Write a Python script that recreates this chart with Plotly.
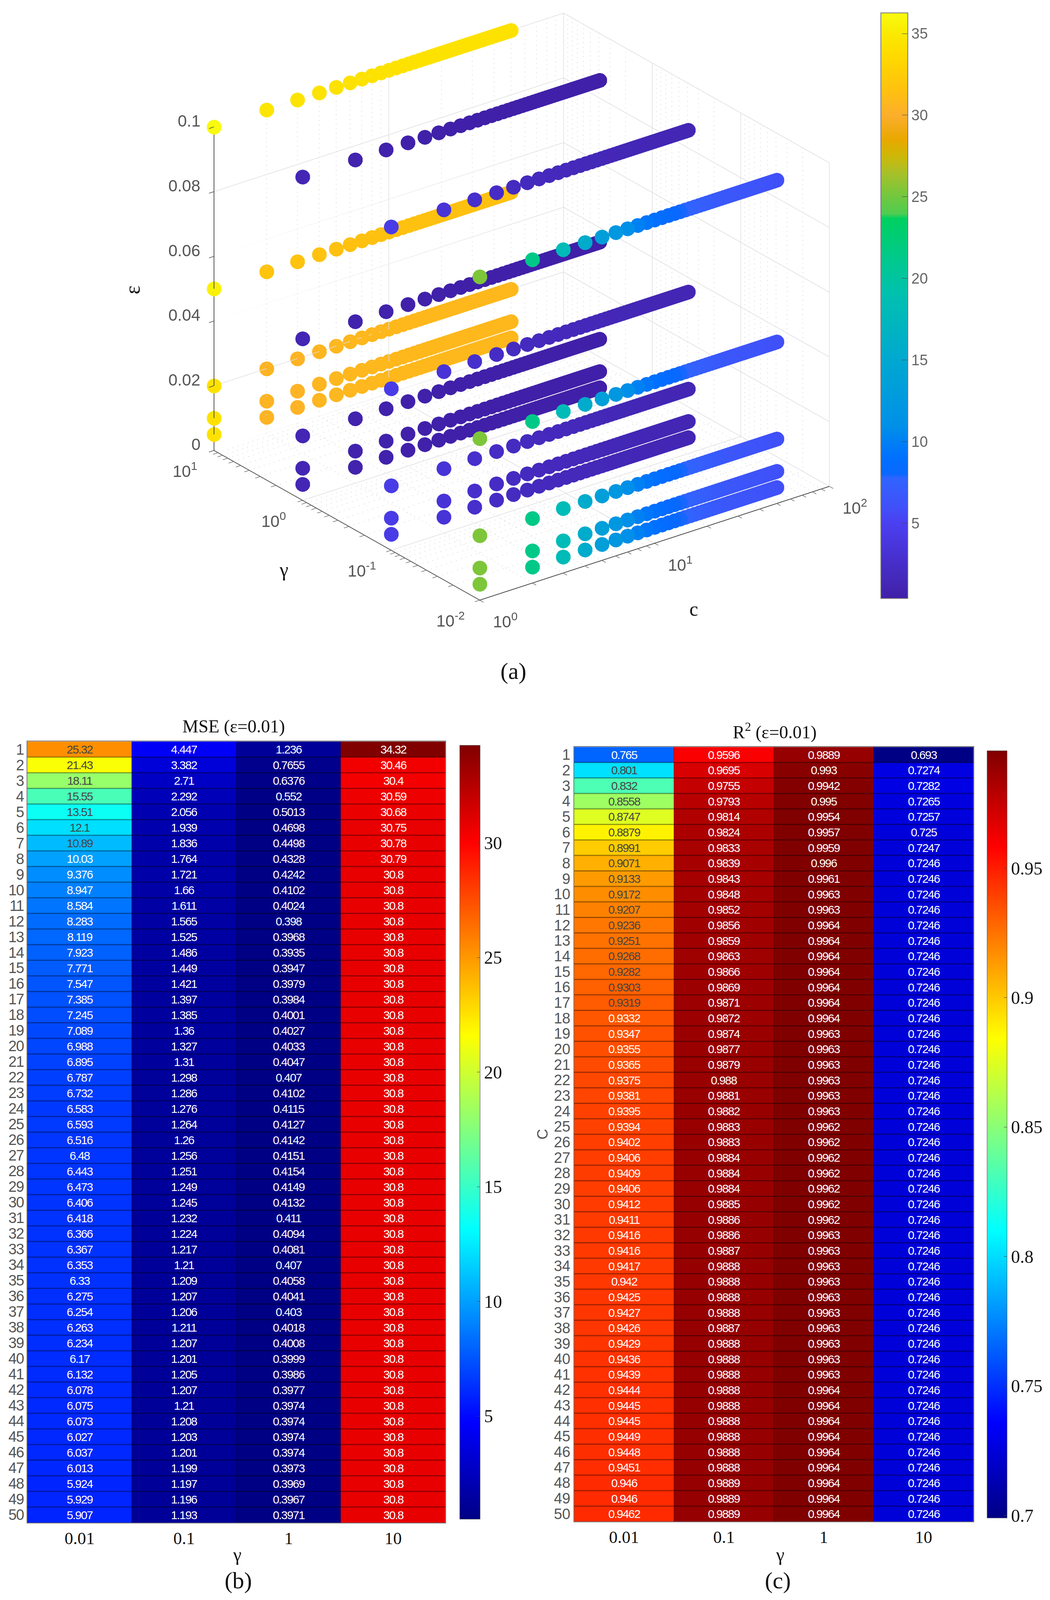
import math
import plotly.graph_objects as go

# ---------- data ----------
c_values = list(range(1, 51))
gamma_values = [0.01, 0.1, 1, 10]
epsilon_values = [0.005, 0.01, 0.02, 0.05, 0.1]
gamma_labels = ["0.01", "0.1", "1", "10"]

mse_g001 = [25.32,21.43,18.11,15.55,13.51,12.1,10.89,10.03,9.376,8.947,8.584,8.283,8.119,7.923,7.771,7.547,7.385,7.245,7.089,6.988,6.895,6.787,6.732,6.583,6.593,6.516,6.48,6.443,6.473,6.406,6.418,6.366,6.367,6.353,6.33,6.275,6.254,6.263,6.234,6.17,6.132,6.078,6.075,6.073,6.027,6.037,6.013,5.924,5.929,5.907]
mse_g01 = [4.447,3.382,2.71,2.292,2.056,1.939,1.836,1.764,1.721,1.66,1.611,1.565,1.525,1.486,1.449,1.421,1.397,1.385,1.36,1.327,1.31,1.298,1.286,1.276,1.264,1.26,1.256,1.251,1.249,1.245,1.232,1.224,1.217,1.21,1.209,1.207,1.206,1.211,1.207,1.201,1.205,1.207,1.21,1.208,1.203,1.201,1.199,1.197,1.196,1.193]
mse_g1 = [1.236,0.7655,0.6376,0.552,0.5013,0.4698,0.4498,0.4328,0.4242,0.4102,0.4024,0.398,0.3968,0.3935,0.3947,0.3979,0.3984,0.4001,0.4027,0.4033,0.4047,0.407,0.4102,0.4115,0.4127,0.4142,0.4151,0.4154,0.4149,0.4132,0.411,0.4094,0.4081,0.407,0.4058,0.4041,0.403,0.4018,0.4008,0.3999,0.3986,0.3977,0.3974,0.3974,0.3974,0.3974,0.3973,0.3969,0.3967,0.3971]
mse_g10 = [34.32,30.46,30.4,30.59,30.68,30.75,30.78,30.79] + [30.8] * 42

r2_g001 = [0.765,0.801,0.832,0.8558,0.8747,0.8879,0.8991,0.9071,0.9133,0.9172,0.9207,0.9236,0.9251,0.9268,0.9282,0.9303,0.9319,0.9332,0.9347,0.9355,0.9365,0.9375,0.9381,0.9395,0.9394,0.9402,0.9406,0.9409,0.9406,0.9412,0.9411,0.9416,0.9416,0.9417,0.942,0.9425,0.9427,0.9426,0.9429,0.9436,0.9439,0.9444,0.9445,0.9445,0.9449,0.9448,0.9451,0.946,0.946,0.9462]
r2_g01 = [0.9596,0.9695,0.9755,0.9793,0.9814,0.9824,0.9833,0.9839,0.9843,0.9848,0.9852,0.9856,0.9859,0.9863,0.9866,0.9869,0.9871,0.9872,0.9874,0.9877,0.9879,0.988,0.9881,0.9882,0.9883,0.9883,0.9884,0.9884,0.9884,0.9885,0.9886,0.9886,0.9887,0.9888,0.9888,0.9888,0.9888,0.9887,0.9888,0.9888,0.9888,0.9888,0.9888,0.9888,0.9888,0.9888,0.9888,0.9889,0.9889,0.9889]
r2_g1 = [0.9889,0.993,0.9942,0.995,0.9954,0.9957,0.9959,0.996,0.9961,0.9963,0.9963] + [0.9964]*7 + [0.9963]*6 + [0.9962]*7 + [0.9963]*10 + [0.9964]*9
r2_g10 = [0.693,0.7274,0.7282,0.7265,0.7257,0.725,0.7247] + [0.7246]*43

# gamma = 10 series of panel (a) at the other epsilon levels, from the dot colours
g10_eps01 = [36.2, 34.6, 34.5, 34.4] + [34.3] * 46
g10_eps005 = [35.6, 31.8, 31.7, 31.6] + [31.5] * 46

mse_by_gamma = [mse_g001, mse_g01, mse_g1, mse_g10]
r2_by_gamma = [r2_g001, r2_g01, r2_g1, r2_g10]

# ---------- styling ----------
W, H = 2688, 4387      # reference size; positions below are given in it
RENDER_H = 4096        # the page is photographed in a 4096 px tall viewport: everything must fit
VS = RENDER_H / H
SERIF = "Liberation Serif"
SANS = "Liberation Sans"

jet = [[0, "#000084"], [0.125, "#0000ff"], [0.375, "#00ffff"], [0.5, "#80ff80"],
       [0.625, "#ffff00"], [0.875, "#ff0000"], [1, "#800000"]]
parula_like = [[0, "#4020a8"], [0.031, "#4428b8"], [0.072, "#4830d0"], [0.128, "#4a40f0"], [0.156, "#4050f8"],
               [0.206, "#3064ff"], [0.212, "#0a68ff"], [0.24, "#0070ff"], [0.295, "#0090e8"], [0.407, "#00a8d0"],
               [0.518, "#00c0b0"], [0.574, "#00c890"], [0.649, "#00d060"], [0.657, "#50cc50"], [0.685, "#70c840"],
               [0.727, "#a8c028"], [0.755, "#cdb808"], [0.783, "#e8a800"], [0.825, "#fcae2c"], [0.866, "#ffc010"],
               [0.922, "#ffd800"], [0.961, "#fbe800"], [1, "#f8fb10"]]

def px(v):
    return v / W
def py(v):
    return 1 - v / H

fig = go.Figure()

# ---------- panel (a) ----------
xs, ys, zs, cs = [], [], [], []
for eps in epsilon_values:
    for g, series in zip(gamma_values, mse_by_gamma):
        if g == 10 and eps == 0.1:
            series = g10_eps01
        elif g == 10 and eps == 0.05:
            series = g10_eps005
        for c, v in zip(c_values, series):
            xs.append(c); ys.append(g); zs.append(eps); cs.append(v)

MINOR = [2, 3, 4, 5, 6, 7, 8, 9]
c_major = [1, 10, 100]
c_minor = [d * m for d in (1, 10) for m in MINOR]
g_major = [0.01, 0.1, 1, 10]
g_minor = [d * m for d in (0.01, 0.1, 1) for m in MINOR]
z_major = [0, 0.02, 0.04, 0.06, 0.08, 0.1]
z_labels = ["0", "0.02", "0.04", "0.06", "0.08", "0.1"]

def segs(pairs):
    X, Y, Z = [], [], []
    for (a, b) in pairs:
        X += [a[0], b[0], None]; Y += [a[1], b[1], None]; Z += [a[2], b[2], None]
    return X, Y, Z

c0, c1, g0, g1, z0, z1 = 1, 100, 0.01, 10, 0, 0.1
major = []
for c in c_major:
    major += [((c, g0, z0), (c, g1, z0)), ((c, g1, z0), (c, g1, z1))]
for g in g_major:
    major += [((c0, g, z0), (c1, g, z0)), ((c1, g, z0), (c1, g, z1))]
for z in z_major:
    major += [((c0, g1, z), (c1, g1, z)), ((c1, g0, z), (c1, g1, z))]

# dotted minor grid lines of the log axes, as rows of tiny dots
N_DOTS = 70
def geo(a, b):
    return [a * (b / a) ** (i / N_DOTS) for i in range(N_DOTS + 1)]
def lin(a, b):
    return [a + (b - a) * i / N_DOTS for i in range(N_DOTS + 1)]
mx, my, mz = [], [], []
for c in c_minor:
    gs = geo(g0, g1)
    mx += [c] * len(gs); my += gs; mz += [z0] * len(gs)
    zz = lin(z0, z1)
    mx += [c] * len(zz); my += [g1] * len(zz); mz += zz
for g in g_minor:
    cc = geo(c0, c1)
    mx += cc; my += [g] * len(cc); mz += [z0] * len(cc)
    zz = lin(z0, z1)
    mx += [c1] * len(zz); my += [g] * len(zz); mz += zz

fig.add_trace(go.Scatter3d(x=mx, y=my, z=mz, mode="markers", showlegend=False, hoverinfo="skip",
                           marker=dict(size=1.2, color="#d2d2d2", line=dict(width=0))))
X, Y, Z = segs(major)
fig.add_trace(go.Scatter3d(x=X, y=Y, z=Z, mode="lines", showlegend=False, hoverinfo="skip",
                           line=dict(color="#dedede", width=3)))

fig.add_trace(go.Scatter3d(
    x=xs, y=ys, z=zs, mode="markers", showlegend=False,
    marker=dict(size=22, color=cs, colorscale=parula_like, cmin=0.39, cmax=36.26, opacity=1,
                line=dict(width=0),
                colorbar=dict(x=px(2248), xanchor="left", y=py(24), yanchor="top",
                              len=1627 * VS, lenmode="pixels", thickness=69, thicknessmode="pixels",
                              tickvals=[5, 10, 15, 20, 25, 30, 35], ticks="inside", ticklen=16,
                              tickcolor="#444", outlinecolor="#777", outlinewidth=2,
                              tickfont=dict(family=SANS, size=38, color="#666")))))

def log_axis(major_vals, minor_vals, rng):
    vals = sorted(major_vals + minor_vals)
    return dict(type="log", range=rng, tickvals=vals, showticklabels=False,
                title=dict(text=""), showgrid=False, showbackground=False, zeroline=False,
                showline=True, linecolor="#444", linewidth=4, ticks="outside", ticklen=16,
                tickcolor="#444", tickwidth=3, showspikes=False)

tick_font = dict(family=SANS, size=42, color="#555")
def sup(v):
    return f"10<sup>{int(round(math.log10(v)))}</sup>"

ann3d = []
for z, t in zip(z_major, z_labels):
    ann3d.append(dict(x=0, y=1, z=z, text=t, showarrow=False, xanchor="right", yanchor="middle",
                      xshift=-33, yshift=15, font=tick_font))
for g in g_major:
    ann3d.append(dict(x=0, y=math.log10(g), z=0, text=sup(g), showarrow=False, xanchor="center", yanchor="middle",
                      xshift=-75, yshift=-50, font=tick_font))
for c in c_major:
    ann3d.append(dict(x=math.log10(c), y=-2, z=0, text=sup(c), showarrow=False, xanchor="center", yanchor="middle",
                      xshift=65, yshift=-52, font=tick_font))

fig.update_layout(scene=dict(
    domain=dict(x=[px(338), px(2338)], y=[py(1680), py(0)]),
    aspectmode="manual", aspectratio=dict(x=1.434, y=1.434, z=1.169),
    xaxis=log_axis(c_major, c_minor, [0, 2]),
    yaxis=log_axis(g_major, g_minor, [-2, 1]),
    zaxis=dict(range=[0, 0.1], tickvals=z_major, showticklabels=False,
               title=dict(text=""), showgrid=False, showbackground=False, zeroline=False,
               showline=True, linecolor="#444", linewidth=4, ticks="outside", ticklen=16,
               tickcolor="#444", tickwidth=3, showspikes=False),
    camera=dict(projection=dict(type="orthographic"),
                center=dict(x=0, y=0, z=0), up=dict(x=0, y=0, z=1),
                eye=dict(x=-0.5467 * 2, y=-0.7193 * 2, z=0.4281 * 2)),
    annotations=ann3d,
))

# ---------- panels (b), (c) ----------
def heat(values, xa, ya, x0, x1, y0, y1, cb_x0, cb_x1, zmin, zmax, ticks, ticktext, fmt_name):
    z = [[series[i] for series in values] for i in range(50)]
    text = [[f"{v:.4g}" for v in row] for row in z]
    fig.add_trace(go.Heatmap(
        z=z, x=gamma_labels, y=c_values, text=text, texttemplate="%{text}",
        textfont=dict(family=SANS, size=30), colorscale=jet, zmin=zmin, zmax=zmax,
        xaxis=xa, yaxis=ya, name=fmt_name,
        colorbar=dict(x=px(cb_x0), xanchor="left", y=py(y0), yanchor="top",
                      len=(y1 - y0) * VS, lenmode="pixels", thickness=cb_x1 - cb_x0, thicknessmode="pixels",
                      tickvals=ticks, ticktext=ticktext, ticks="inside", ticklen=8, tickcolor="#444",
                      outlinecolor="#444", outlinewidth=1,
                      tickfont=dict(family=SERIF, size=46, color="#111"))))
    common_x = dict(type="category", domain=[px(x0), px(x1)], tickfont=dict(family=SERIF, size=44, color="#111"),
                    ticks="", showgrid=False, zeroline=False, showline=True, linecolor="#777", mirror=True, linewidth=2)
    common_y = dict(domain=[py(y1), py(y0)], autorange="reversed", tickvals=c_values, ticks="",
                    tickfont=dict(family=SANS, size=38, color="#555"), showgrid=False, zeroline=False,
                    showline=True, linecolor="#777", mirror=True, linewidth=2)
    return common_x, common_y

xb, yb = heat(mse_by_gamma, "x", "y", 70, 1142, 2033, 4176, 1169, 1221,
              0.5, 34.25, [5, 10, 15, 20, 25, 30], ["5", "10", "15", "20", "25", "30"], "MSE")
xc, yc = heat(r2_by_gamma, "x2", "y2", 1472, 2496, 2048, 4173, 2521, 2572,
              0.699, 0.9953, [0.7, 0.75, 0.8, 0.85, 0.9, 0.95], ["0.7", "0.75", "0.8", "0.85", "0.9", "0.95"], "R2")
fig.update_layout(xaxis=xb, yaxis=yb, xaxis2=dict(xc, anchor="y2"), yaxis2=dict(yc, anchor="x2"))

shapes = []
for xa, ya in (("x", "y"), ("x2", "y2")):
    for i in c_values[:-1]:
        shapes.append(dict(type="line", xref=f"{xa} domain", x0=0, x1=1, yref=ya, y0=i + 0.5, y1=i + 0.5,
                           line=dict(color="rgba(0,0,0,0.38)", width=3)))
    for j in (0.5, 1.5, 2.5):
        shapes.append(dict(type="line", xref=xa, x0=j, x1=j, yref=f"{ya} domain", y0=0, y1=1,
                           line=dict(color="rgba(0,0,0,0.22)", width=2)))
fig.update_layout(shapes=shapes)

# ---------- free text ----------
def label(text, x, y, size=48, family=SERIF, color="#111", angle=0):
    fig.add_annotation(text=text, x=px(x), y=py(y), xref="paper", yref="paper", showarrow=False,
                       xanchor="center", yanchor="middle", textangle=angle,
                       font=dict(family=family, size=size, color=color))

label("(a)", 1316, 1840, 60)
label("(b)", 611, 4335, 60)
label("(c)", 1994, 4335, 60)
label("ε", 339, 794, 54, angle=-90)
label("γ", 728, 1561, 50)
label("c", 1779, 1669, 50)
label("MSE (ε=0.01)", 599, 1991, 46)
label("R<sup>2</sup> (ε=0.01)", 1986, 2004, 46)
label("γ", 608, 4263, 48)
label("γ", 2000, 4263, 48)
label("C", 1391, 3110, 38, SANS, "#555", -90)

fig.update_layout(width=W, height=RENDER_H, autosize=False, margin=dict(l=0, r=0, t=0, b=0),
                  paper_bgcolor="white", plot_bgcolor="white", showlegend=False)

post = """
document.body.style.margin='0';
var st=document.createElement('style');
st.textContent='.heatmaplayer text{letter-spacing:-1.8px} .ytick text{letter-spacing:-1.8px}';
document.head.appendChild(st);
"""
fig.write_html("out.html", post_script=post, config={"displayModeBar": False})
